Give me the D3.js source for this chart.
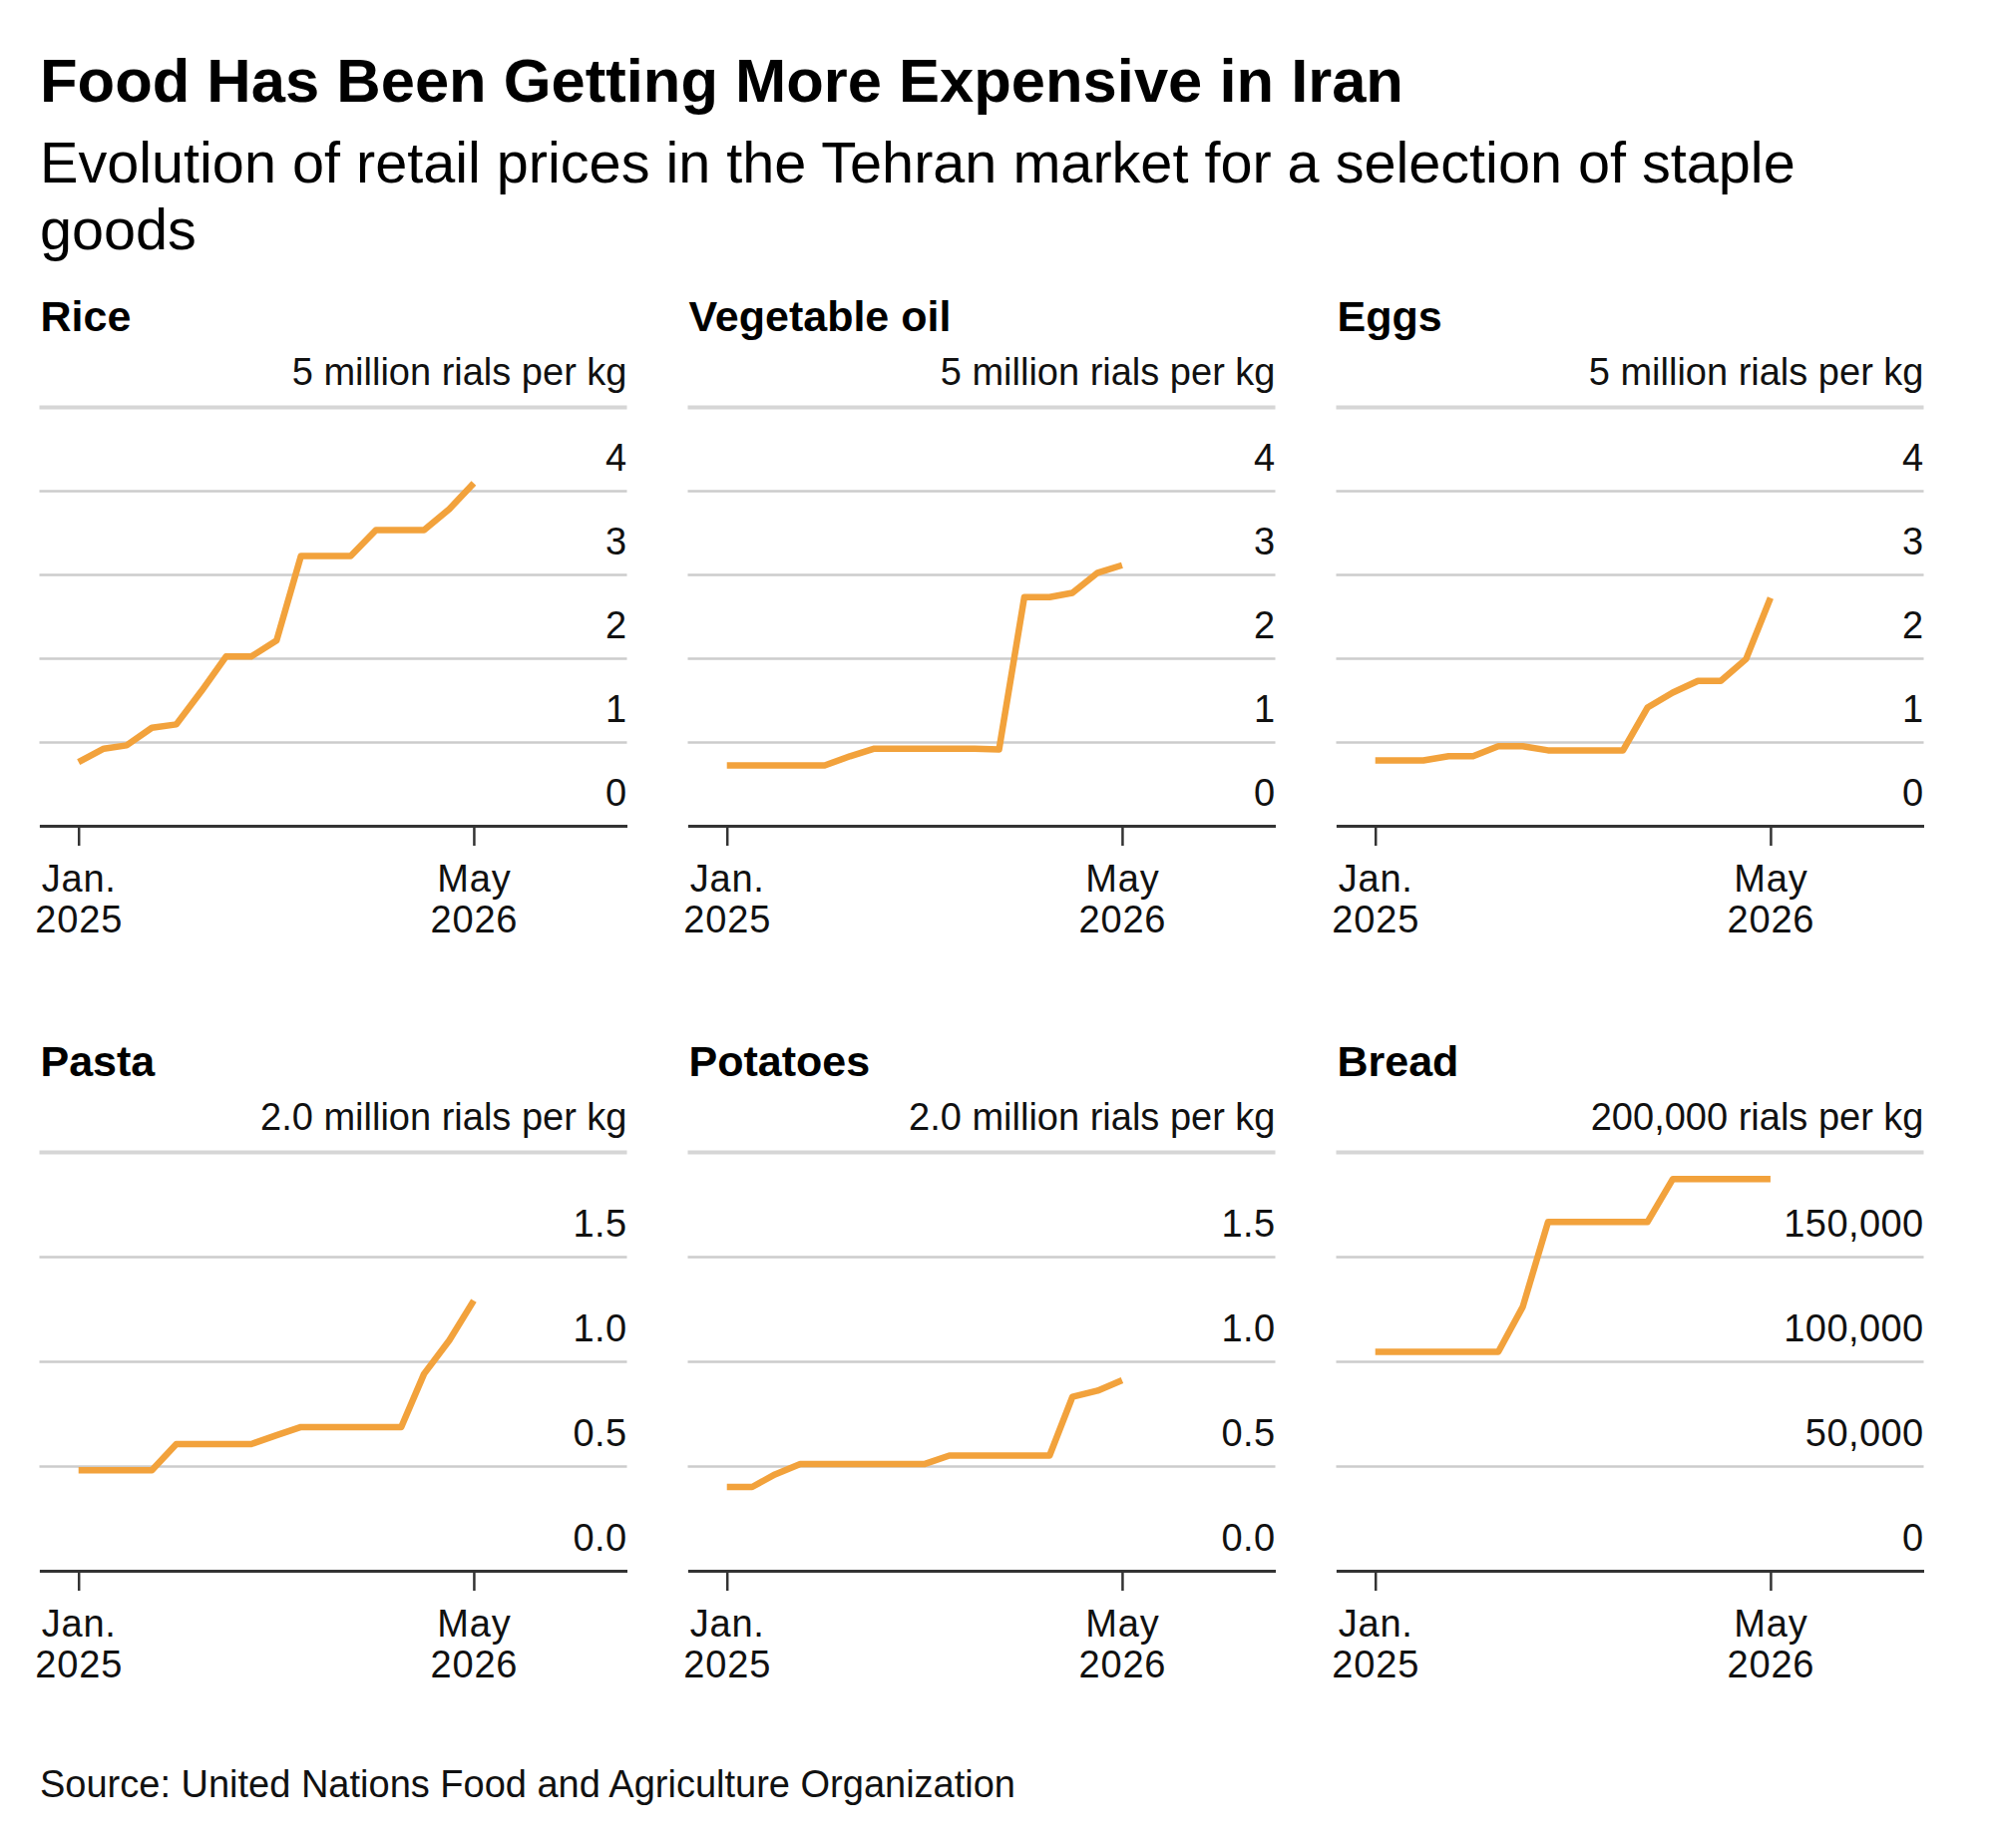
<!DOCTYPE html>
<html>
<head>
<meta charset="utf-8">
<script src="https://cdn.jsdelivr.net/npm/d3@7"></script>
<style>
  body { margin: 0; background: #fff; }
  text { font-family: "Liberation Sans", Arial, Helvetica, sans-serif; fill: #111; }
</style>
</head>
<body>
<svg id="chart"></svg>
<script>
// monthly observations, Jan 2025 - May 2026
var months = ["2025-01", "2025-02", "2025-03", "2025-04", "2025-05", "2025-06",
              "2025-07", "2025-08", "2025-09", "2025-10", "2025-11", "2025-12",
              "2026-01", "2026-02", "2026-03", "2026-04", "2026-05"];

// million rials per kg
var rice         = [0.76, 0.92, 0.96, 1.17, 1.21, 1.61, 2.02, 2.02, 2.21, 3.22, 3.22, 3.22, 3.53, 3.53, 3.53, 3.78, 4.09];
var vegetableOil = [0.72, 0.72, 0.72, 0.72, 0.72, 0.83, 0.92, 0.92, 0.92, 0.92, 0.92, 0.91, 2.73, 2.73, 2.78, 3.02, 3.11];
var eggs         = [0.78, 0.78, 0.78, 0.83, 0.83, 0.95, 0.95, 0.90, 0.90, 0.90, 0.90, 1.41, 1.59, 1.73, 1.73, 1.99, 2.72];
var pasta        = [0.48, 0.48, 0.48, 0.48, 0.605, 0.605, 0.605, 0.605, 0.647, 0.686, 0.686, 0.686, 0.686, 0.686, 0.94, 1.10, 1.29];
var potatoes     = [0.40, 0.40, 0.46, 0.51, 0.51, 0.51, 0.51, 0.51, 0.51, 0.55, 0.55, 0.55, 0.55, 0.55, 0.83, 0.86, 0.91];
// rials per kg
var bread        = [104500, 104500, 104500, 104500, 104500, 104500, 126000, 166500, 166500, 166500, 166500, 166500,
                    187000, 187000, 187000, 187000, 187000];

var ticksFive    = [0, 1, 2, 3, 4, 5];
var ticksTwo     = [0, 0.5, 1.0, 1.5, 2.0];
var ticksBread   = [0, 50000, 100000, 150000, 200000];

var xTickLabels  = [["Jan.", "2025"], ["May", "2026"]];

var svgWidth = 2000, svgHeight = 1853;
var plotW = 589, plotH = 420;
var colStep = 650, rowStep = 747;
var firstLeft = 39.5, firstTop = 408;

var parseMonth = d3.timeParse("%Y-%m");
var dates = months.map(parseMonth);
var xTickDates = [parseMonth("2025-01"), parseMonth("2026-05")];
var xDomain = [new Date(2024, 10, 14), new Date(2026, 10, 5)];

var panels = [
  { name: "Rice",          values: rice,         ticks: ticksFive,  unit: "5 million rials per kg",   fmt: d3.format("d") },
  { name: "Vegetable oil", values: vegetableOil, ticks: ticksFive,  unit: "5 million rials per kg",   fmt: d3.format("d") },
  { name: "Eggs",          values: eggs,         ticks: ticksFive,  unit: "5 million rials per kg",   fmt: d3.format("d") },
  { name: "Pasta",         values: pasta,        ticks: ticksTwo,   unit: "2.0 million rials per kg", fmt: d3.format(".1f") },
  { name: "Potatoes",      values: potatoes,     ticks: ticksTwo,   unit: "2.0 million rials per kg", fmt: d3.format(".1f") },
  { name: "Bread",         values: bread,        ticks: ticksBread, unit: "200,000 rials per kg",     fmt: d3.format(",") }
];

var svg = d3.select("#chart")
    .attr("width", svgWidth)
    .attr("height", svgHeight);

// headline
svg.append("text")
    .attr("x", 40).attr("y", 102)
    .style("font-size", "61.5px").style("font-weight", "bold")
    .style("fill", "#000")
    .text("Food Has Been Getting More Expensive in Iran");

var sub = svg.append("text")
    .style("font-size", "57.6px")
    .style("fill", "#000");
sub.append("tspan").attr("x", 40).attr("y", 183)
    .text("Evolution of retail prices in the Tehran market for a selection of staple");
sub.append("tspan").attr("x", 40).attr("y", 250)
    .text("goods");

panels.forEach(function(p, i) {
  var col = i % 3, row = Math.floor(i / 3);
  var left = firstLeft + col * colStep;
  var top = firstTop + row * rowStep;
  var maxV = p.ticks[p.ticks.length - 1];

  var g = svg.append("g")
      .attr("transform", "translate(" + left + "," + top + ")");

  var x = d3.scaleTime().domain(xDomain).range([0, plotW]);
  var y = d3.scaleLinear().domain([0, maxV]).range([plotH, 0]);

  // panel title
  g.append("text")
      .attr("x", 1).attr("y", -76)
      .style("font-size", "43px").style("font-weight", "bold")
      .style("fill", "#000")
      .text(p.name);

  // gridlines + labels sitting above each line, top one carries the unit
  var yAxis = d3.axisRight(y)
      .tickValues(p.ticks)
      .tickSize(plotW)
      .tickFormat(function(d) { return d === maxV ? p.unit : p.fmt(d); });

  var gy = g.append("g").call(yAxis);
  gy.select(".domain").remove();
  gy.selectAll(".tick line")
      .attr("stroke", function(d) { return d === maxV ? "#d6d6d6" : "#cccccc"; })
      .attr("stroke-width", function(d) { return d === maxV ? 4 : 2.5; });
  gy.selectAll(".tick text")
      .attr("x", plotW)
      .attr("dy", null)
      .attr("y", function(d) { return d === maxV ? -23 : -21; })
      .attr("text-anchor", "end")
      .style("font-size", "38px")
      .style("letter-spacing", function(d) { return d === maxV ? "0px" : "0.4px"; });

  var line = d3.line()
      .x(function(d, j) { return x(dates[j]); })
      .y(function(d) { return y(d); });

  g.append("path")
      .datum(p.values)
      .attr("fill", "none")
      .attr("stroke", "#f2a23c")
      .attr("stroke-width", 6.5)
      .attr("stroke-linejoin", "round")
      .attr("d", line);

  // x axis
  var xAxis = d3.axisBottom(x)
      .tickValues(xTickDates)
      .tickSize(20)
      .tickSizeOuter(0)
      .tickFormat("");

  var gx = g.append("g")
      .attr("transform", "translate(0," + plotH + ")")
      .call(xAxis);
  gx.select(".domain").attr("stroke", "#333").attr("stroke-width", 3);
  gx.selectAll(".tick line").attr("stroke", "#333").attr("stroke-width", 2.5);
  gx.selectAll(".tick text").each(function(d, k) {
    var t = d3.select(this).attr("y", null).attr("dy", null)
        .style("font-size", "38px").style("letter-spacing", "0.8px");
    t.selectAll("tspan")
        .data(xTickLabels[k])
        .enter()
        .append("tspan")
        .attr("x", 0)
        .attr("y", function(s, j) { return 66 + j * 41; })
        .text(function(s) { return s; });
  });
});

svg.append("text")
    .attr("x", 40).attr("y", 1802)
    .style("font-size", "38px")
    .text("Source: United Nations Food and Agriculture Organization");
</script>
</body>
</html>
